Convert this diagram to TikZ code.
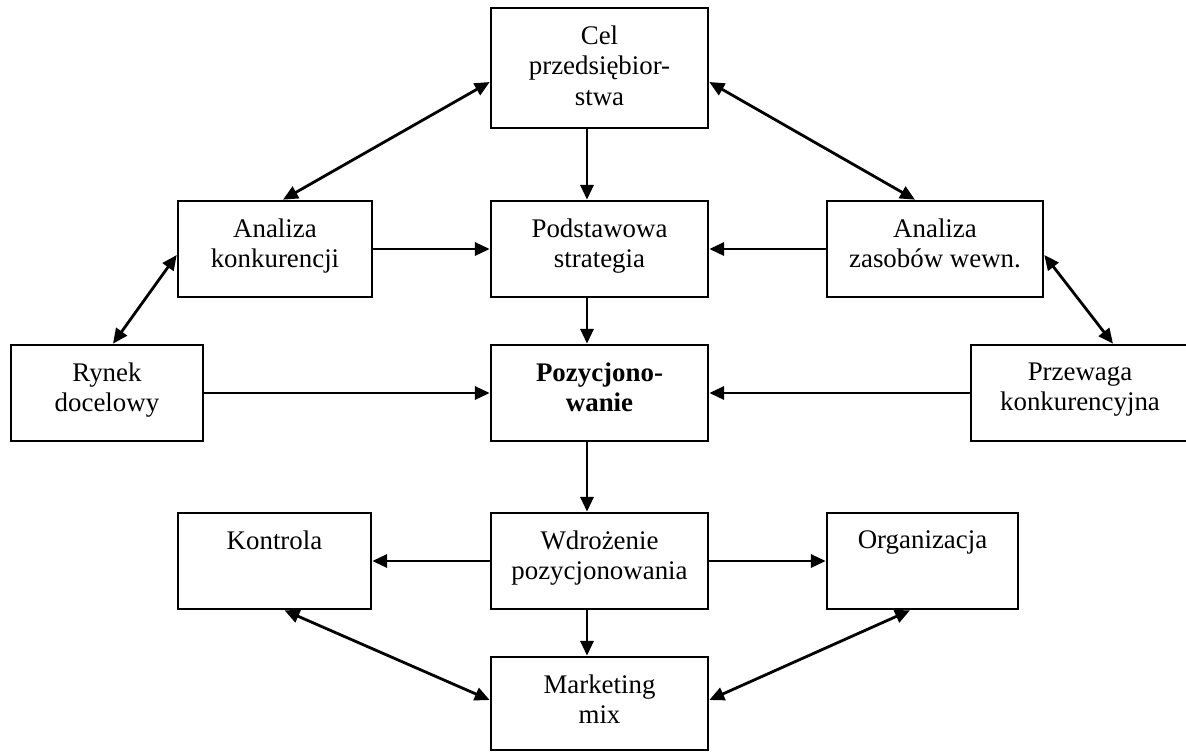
\documentclass[tikz,border=0pt]{standalone}
\usepackage{fontspec}
\setmainfont{Liberation Serif}
\usetikzlibrary{
    arrows.meta,
    positioning
}

\begin{document}
\begin{tikzpicture}[
    x=0.02cm, y=-0.02cm,
    every node/.style={font=\fontsize{15.3pt}{17.4pt}\selectfont},
    box_tall/.style={rectangle, draw=black, line width=1.5pt, minimum width=4.34cm, minimum height=2.4cm},
    box_main/.style={rectangle, draw=black, line width=1.5pt, minimum width=4.34cm, minimum height=1.92cm},
    box_side/.style={rectangle, draw=black, line width=1.5pt, minimum height=1.92cm},
    txt/.style={align=center, inner sep=0pt},
    arrow/.style={line width=1.6pt, -{Triangle[length=8.5pt, width=7.5pt]}},
    both_arrow/.style={line width=1.6pt, {Triangle[length=8.5pt, width=7.5pt]}-{Triangle[length=8.5pt, width=7.5pt]}}
]
\useasboundingbox (0,0) rectangle (1186,751);

% middle column
\node[box_tall] (cel) at (599.5,68) {};
\node[box_main] (strategia) at (599.5,249) {};
\node[box_main] (pozycja) at (599.5,393) {};
\node[box_main] (wdrozenie) at (599.5,561) {};
\node[box_main, minimum height=1.86cm] (mix) at (599.5,703.5) {};

% side boxes
\node[box_side, minimum width=3.88cm] (konkurencja) at (275,249) {};
\node[box_side, minimum width=4.32cm] (zasoby) at (935,249) {};
\node[box_side, minimum width=3.84cm] (rynek) at (107,393) {};
\node[box_side, minimum width=4.5cm] (przewaga) at (1083.5,393) {};
\node[box_side, minimum width=3.86cm] (kontrola) at (274.5,561) {};
\node[box_side, minimum width=3.82cm] (organizacja) at (922.5,561) {};

% texts
\node[txt, below=0.37cm of cel.north] (cel_t) {Cel\\przedsiębior-\\stwa};
\node[txt, below=0.37cm of strategia.north] (strategia_t) {Podstawowa\\strategia};
\node[txt, below=0.37cm of pozycja.north, font=\fontsize{15.3pt}{17.4pt}\selectfont\bfseries] (pozycja_t) {Pozycjono-\\wanie};
\node[txt, below=0.37cm of wdrozenie.north] (wdrozenie_t) {Wdrożenie\\pozycjonowania};
\node[txt, below=0.37cm of mix.north] (mix_t) {Marketing\\mix};
\node[txt, below=0.37cm of konkurencja.north] (konkurencja_t) {Analiza\\konkurencji};
\node[txt, below=0.37cm of zasoby.north] (zasoby_t) {Analiza\\zasobów wewn.};
\node[txt, below=0.37cm of rynek.north] (rynek_t) {Rynek\\docelowy};
\node[txt, below=0.37cm of przewaga.north, xshift=-0.07cm] (przewaga_t) {Przewaga\\konkurencyjna};
\node[txt, below=0.37cm of kontrola.north] (kontrola_t) {Kontrola};
\node[txt, below=0.37cm of organizacja.north] (organizacja_t) {Organizacja};

% vertical flow
\draw[arrow] ([xshift=-0.25cm]cel.south) -- ([xshift=-0.25cm]strategia.north);
\draw[arrow] ([xshift=-0.25cm]strategia.south) -- ([xshift=-0.25cm]pozycja.north);
\draw[arrow] ([xshift=-0.25cm]pozycja.south) -- ([xshift=-0.25cm]wdrozenie.north);
\draw[arrow] ([xshift=-0.25cm]wdrozenie.south) -- ([xshift=-0.25cm]mix.north);

% horizontal arrows
\draw[arrow] (konkurencja.east) -- (strategia.west);
\draw[arrow] (zasoby.west) -- (strategia.east);
\draw[arrow] (rynek.east) -- (pozycja.west);
\draw[arrow] (przewaga.west) -- (pozycja.east);
\draw[arrow] (wdrozenie.west) -- (kontrola.east);
\draw[arrow] (wdrozenie.east) -- (organizacja.west);

% two-way links
\draw[both_arrow] ([yshift=-0.28cm]cel.west) -- ([xshift=0.16cm]konkurencja.north);
\draw[both_arrow] ([yshift=-0.28cm]cel.east) -- ([xshift=-0.4cm]zasoby.north);
\draw[both_arrow] ([yshift=-0.12cm]konkurencja.west) -- ([xshift=0.12cm]rynek.north);
\draw[both_arrow] ([yshift=-0.12cm]zasoby.east) -- ([xshift=0.59cm]przewaga.north);
\draw[both_arrow] ([xshift=0.2cm]kontrola.south) -- ([yshift=0.07cm]mix.west);
\draw[both_arrow] ([xshift=-0.25cm]organizacja.south) -- ([yshift=0.07cm]mix.east);

\end{tikzpicture}
\end{document}
